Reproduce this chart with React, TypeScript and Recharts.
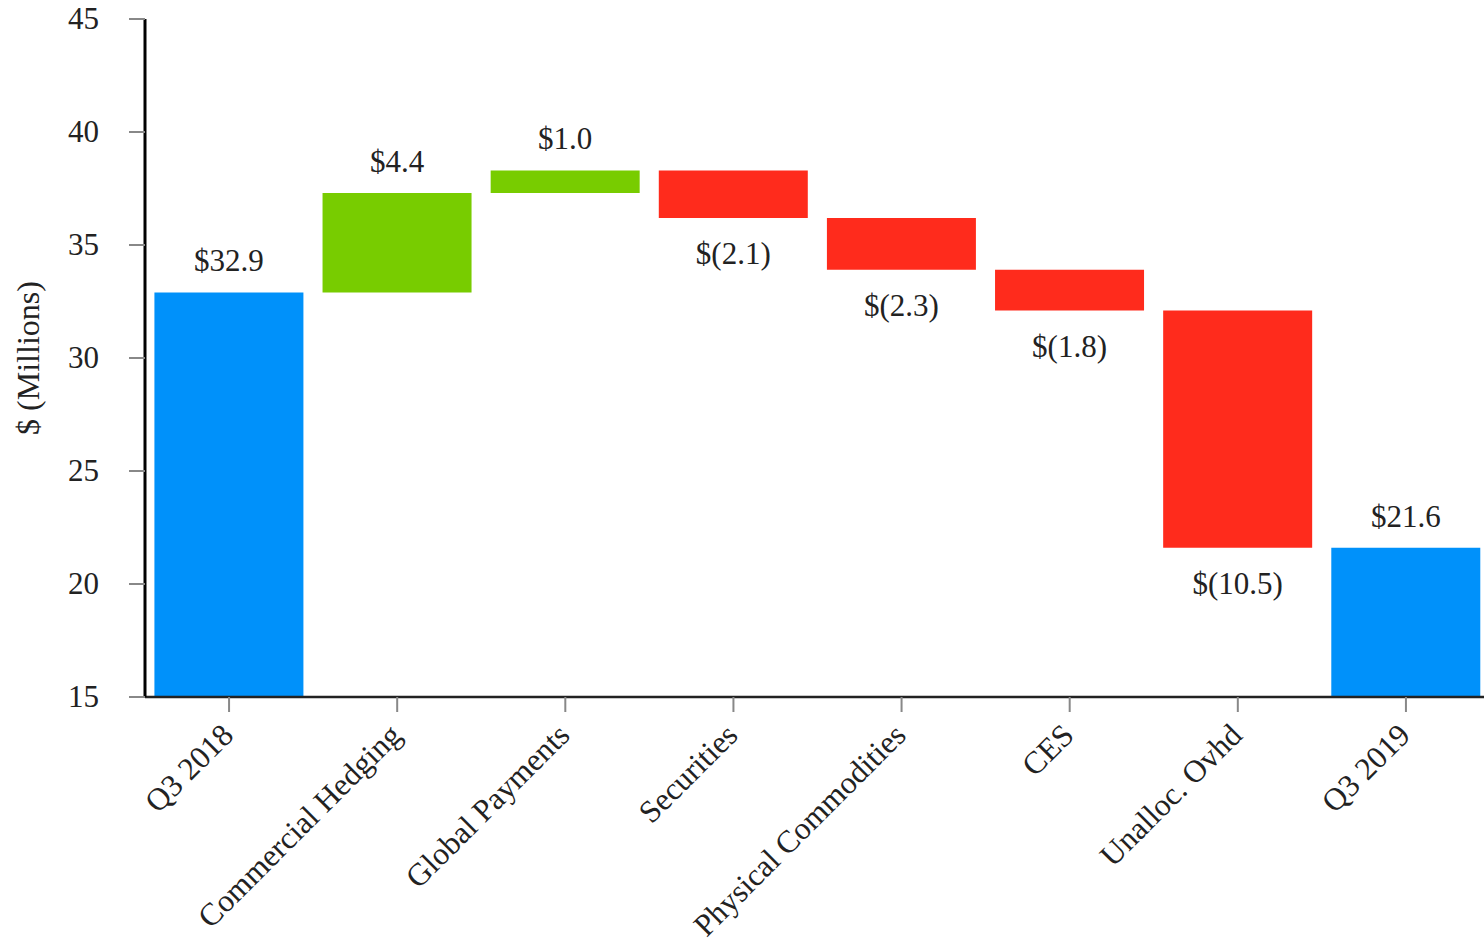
import React from 'react';
import { BarChart, Bar, XAxis, YAxis, Cell, LabelList, Label } from 'recharts';

// Quarter-over-quarter bridge, $ millions
const categories = [
  'Q3 2018',
  'Commercial Hedging',
  'Global Payments',
  'Securities',
  'Physical Commodities',
  'CES',
  'Unalloc. Ovhd',
  'Q3 2019',
];
const changes = [32.9, 4.4, 1.0, -2.1, -2.3, -1.8, -10.5, 21.6];
const kinds = ['total', 'step', 'step', 'step', 'step', 'step', 'step', 'total'];
const yTicks = [15, 20, 25, 30, 35, 40, 45];
const AXIS_FLOOR = 15;

const COLORS = {
  total: '#0091FA',
  up: '#78CC00',
  down: '#FF2B1C',
};

const FONT = '"Liberation Serif", "Times New Roman", serif';

type Row = { name: string; value: number; kind: string; low: number; high: number };

const rows: Row[] = (() => {
  let running = 0;
  return categories.map((name, i) => {
    const value = changes[i];
    const kind = kinds[i];
    if (kind === 'total') {
      running = value;
      return { name, value, kind, low: AXIS_FLOOR, high: value };
    }
    const start = running;
    const end = running + value;
    running = end;
    return { name, value, kind, low: Math.min(start, end), high: Math.max(start, end) };
  });
})();

const fmt = (v: number) =>
  v < 0 ? `$(${Math.abs(v).toFixed(1)})` : `$${v.toFixed(1)}`;

const barColor = (r: Row) =>
  r.kind === 'total' ? COLORS.total : r.value >= 0 ? COLORS.up : COLORS.down;

const XTick = (props: any) => {
  const { x, y, payload } = props;
  return (
    <g transform={`translate(${x + 6},${y + 23})`}>
      <text
        x={0}
        y={0}
        textAnchor="end"
        transform="rotate(-45)"
        fill="#222"
        fontSize={31.5}
        fontFamily={FONT}
        style={{ fontFamily: FONT }}
      >
        {payload.value}
      </text>
    </g>
  );
};

const YTick = (props: any) => {
  const { x, y, payload } = props;
  return (
    <text
      x={x + 2}
      y={y}
      dy={10}
      textAnchor="end"
      fill="#222"
      fontSize={31}
      fontFamily={FONT}
      style={{ fontFamily: FONT }}
    >
      {payload.value}
    </text>
  );
};

const ValueLabel = (props: any) => {
  const { x, y, width, height, index } = props;
  const r = rows[index];
  const top = Math.min(y, y + height);
  const bottom = Math.max(y, y + height);
  const cx = x + width / 2;
  const below = r.kind !== 'total' && r.value < 0;
  return (
    <text
      x={cx}
      y={below ? bottom + 46 : top - 21}
      textAnchor="middle"
      fill="#222"
      fontSize={31}
      fontFamily={FONT}
      style={{ fontFamily: FONT }}
    >
      {fmt(r.value)}
    </text>
  );
};

export default function App() {
  return (
    <div style={{ width: 1484, height: 942, overflow: 'hidden', background: '#fff' }}>
      <style>{`html, body { margin: 0; padding: 0; overflow: hidden; }`}</style>
      <BarChart
        width={1490}
        height={942}
        data={rows}
        margin={{ top: 19, right: 0, bottom: 0, left: 0 }}
        barCategoryGap="5.6%"
        style={{ fontFamily: FONT }}
      >
        <XAxis
          dataKey="name"
          interval={0}
          height={245}
          tickSize={15}
          tick={<XTick />}
          tickLine={{ stroke: '#888', strokeWidth: 2 }}
          axisLine={{ stroke: '#222', strokeWidth: 2.5 }}
        />
        <YAxis
          type="number"
          domain={[AXIS_FLOOR, 45]}
          ticks={yTicks}
          width={145}
          tickSize={16}
          tickMargin={32}
          allowDataOverflow
          tick={<YTick />}
          tickLine={{ stroke: '#888', strokeWidth: 2 }}
          axisLine={{ stroke: '#000', strokeWidth: 3 }}
        >
          <Label
            content={() => (
              <text
                x={28}
                y={358}
                transform="rotate(-90 28 358)"
                textAnchor="middle"
                dominantBaseline="central"
                fill="#222"
                fontSize={32}
                fontFamily={FONT}
                style={{ fontFamily: FONT }}
              >
                $ (Millions)
              </text>
            )}
          />
        </YAxis>
        <Bar dataKey={(d: Row) => [d.low, d.high]} isAnimationActive={false}>
          {rows.map((r, i) => (
            <Cell key={i} fill={barColor(r)} />
          ))}
          <LabelList content={<ValueLabel />} />
        </Bar>
      </BarChart>
    </div>
  );
}
